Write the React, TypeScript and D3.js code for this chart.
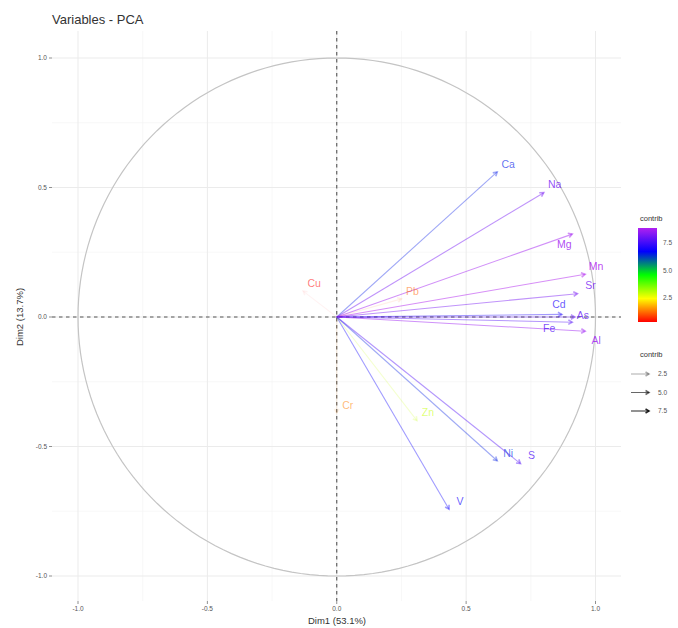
import React from "react";
import * as d3 from "d3";

const variables = ["Ca", "Na", "Mg", "Mn", "Sr", "Cd", "As", "Fe", "Al", "Ni", "S", "V", "Cu", "Pb", "Cr", "Zn"];
const dim1 = [0.62, 0.80, 0.91, 0.96, 0.93, 0.87, 0.92, 0.91, 0.96, 0.62, 0.71, 0.434, -0.13, 0.25, 0.0, 0.31];
const dim2 = [0.56, 0.48, 0.32, 0.165, 0.09, 0.01, 0.0, -0.02, -0.055, -0.555, -0.566, -0.742, 0.10, 0.07, -0.37, -0.40];
const contrib = [6.53, 8.14, 8.70, 8.88, 8.17, 7.08, 7.92, 7.75, 8.65, 6.48, 7.71, 6.91, 0.25, 1.1, 1.35, 2.9];
const axisTicks = [-1.0, -0.5, 0.0, 0.5, 1.0];
const minorTicks = [-0.75, -0.25, 0.25, 0.75];
const legendBreaks = [2.5, 5.0, 7.5];
const gradientColors = ["#FF0000", "#FFFF00", "#00FF00", "#0000FF", "#B020F0"];

// label nudges (layout only), in px relative to default placement
const labelNudge: Record<string, [number, number]> = {
  Mg: [-19, 18],
  Fe: [-34, 14],
  Al: [0, 17],
  Sr: [2, 0],
  Cd: [-14, -2],
  As: [-3, 6],
};

const W = 678, H = 628;
const panel = { left: 52, right: 621, top: 31, bottom: 601 };
const FONT = "'Liberation Sans', Arial, sans-serif";

export default function App() {
  const xs = d3.scaleLinear().domain([-1, 1]).range([78, 595.5]);
  const ys = d3.scaleLinear().domain([-1, 1]).range([576, 58]);
  const cmin = d3.min(contrib) as number;
  const cmax = d3.max(contrib) as number;
  const color = d3
    .scaleLinear<string>()
    .domain(gradientColors.map((_, i) => cmin + (i / (gradientColors.length - 1)) * (cmax - cmin)))
    .range(gradientColors)
    .interpolate(d3.interpolateRgb);
  const alpha = d3.scaleLinear().domain([cmin, cmax]).range([0.1, 1]);

  const circle = d3.range(0, 361, 2).map((a) => [Math.cos((a * Math.PI) / 180), Math.sin((a * Math.PI) / 180)]);
  const circlePath = d3.line<number[]>().x((d) => xs(d[0])).y((d) => ys(d[1]))(circle) as string;

  const arrowHead = (x1: number, y1: number, x2: number, y2: number, len = 4.5) => {
    const ang = Math.atan2(y2 - y1, x2 - x1);
    const a1 = ang + Math.PI - Math.PI / 6;
    const a2 = ang + Math.PI + Math.PI / 6;
    return `M${x2 + len * Math.cos(a1)},${y2 + len * Math.sin(a1)}L${x2},${y2}L${x2 + len * Math.cos(a2)},${y2 + len * Math.sin(a2)}`;
  };

  // colorbar
  const bar = { x: 638, y: 228, w: 19, h: 94 };
  const barScale = d3.scaleLinear().domain([cmin, cmax]).range([bar.y + bar.h, bar.y]);

  return (
    <svg width={W} height={H} style={{ position: "absolute", left: 0, top: 0, background: "#fff" }} fontFamily={FONT}>
      <defs>
        <linearGradient id="cbar" x1="0" y1="1" x2="0" y2="0">
          {d3.range(0, 1.0001, 0.05).map((t) => (
            <stop key={t} offset={t} stopColor={color(cmin + t * (cmax - cmin))} />
          ))}
        </linearGradient>
      </defs>
      <rect width={W} height={H} fill="#fff" />
      {/* title */}
      <text x={52} y={24} fontSize={13} fill="#333">Variables - PCA</text>

      {/* grid */}
      {minorTicks.map((t) => (
        <g key={"m" + t}>
          <line x1={xs(t)} x2={xs(t)} y1={panel.top} y2={panel.bottom} stroke="#F3F3F3" strokeWidth={0.6} />
          <line y1={ys(t)} y2={ys(t)} x1={panel.left} x2={panel.right} stroke="#F3F3F3" strokeWidth={0.6} />
        </g>
      ))}
      {axisTicks.map((t) => (
        <g key={"M" + t}>
          <line x1={xs(t)} x2={xs(t)} y1={panel.top} y2={panel.bottom} stroke="#EBEBEB" strokeWidth={1} />
          <line y1={ys(t)} y2={ys(t)} x1={panel.left} x2={panel.right} stroke="#EBEBEB" strokeWidth={1} />
        </g>
      ))}

      {/* axis ticks + labels */}
      {axisTicks.map((t) => (
        <g key={"t" + t} fontSize={6.5} fill="#555">
          <line x1={xs(t)} x2={xs(t)} y1={panel.bottom} y2={panel.bottom + 3} stroke="#444" strokeWidth={0.6} />
          <text x={xs(t)} y={611} textAnchor="middle">{t.toFixed(1)}</text>
          <line x1={panel.left - 3} x2={panel.left} y1={ys(t)} y2={ys(t)} stroke="#444" strokeWidth={0.6} />
          <text x={panel.left - 5} y={ys(t) + 2.3} textAnchor="end">{t.toFixed(1)}</text>
        </g>
      ))}
      <text x={337} y={624} textAnchor="middle" fontSize={9.5} fill="#333">Dim1 (53.1%)</text>
      <text transform={`translate(23,317) rotate(-90)`} textAnchor="middle" fontSize={9.5} fill="#333">Dim2 (13.7%)</text>

      {/* correlation circle */}
      <path d={circlePath} fill="none" stroke="#C4C4C4" strokeWidth={1.2} />

      {/* reference lines */}
      <line x1={panel.left} x2={panel.right} y1={ys(0)} y2={ys(0)} stroke="#555" strokeWidth={1.1} strokeDasharray="3.5,3.5" />
      <line x1={xs(0)} x2={xs(0)} y1={panel.top} y2={panel.bottom} stroke="#555" strokeWidth={1.1} strokeDasharray="3.5,3.5" />

      {/* arrows */}
      {variables.map((v, i) => {
        const x2 = xs(dim1[i]);
        const y2 = ys(dim2[i]);
        const c = color(contrib[i]);
        const a = alpha(contrib[i]) * 0.5;
        return (
          <g key={v} stroke={c} strokeOpacity={a} fill="none" strokeWidth={1.1}>
            <line x1={xs(0)} y1={ys(0)} x2={x2} y2={y2} />
            <path d={arrowHead(xs(0), ys(0), x2, y2)} strokeWidth={1.6} />
          </g>
        );
      })}
      {/* labels */}
      {variables.map((v, i) => {
        const n = labelNudge[v] || [0, 0];
        const x = xs(dim1[i]) + 11 + n[0];
        const y = ys(dim2[i]) - 8 + n[1];
        return (
          <text key={"l" + v} x={x} y={y + 3.8} textAnchor="middle" fontSize={10.5} fill={color(contrib[i])} fillOpacity={Math.max(0.55, alpha(contrib[i]) * 0.85)}>
            {v}
          </text>
        );
      })}

      {/* legend: colour */}
      <text x={640} y={221} fontSize={7.5} fill="#333">contrib</text>
      <rect x={bar.x} y={bar.y} width={bar.w} height={bar.h} fill="url(#cbar)" />
      {legendBreaks.map((b) => (
        <g key={"cb" + b}>
          <text x={663} y={barScale(b) + 2.3} fontSize={6.5} fill="#555">{b.toFixed(1)}</text>
        </g>
      ))}

      {/* legend: alpha */}
      <text x={640} y={357} fontSize={7.5} fill="#333">contrib</text>
      {legendBreaks.map((b, i) => {
        const yy = 374 + i * 18.5;
        return (
          <g key={"al" + b}>
            <g stroke="#000" strokeOpacity={alpha(b)} fill="none" strokeWidth={1}>
              <line x1={631} x2={649} y1={yy} y2={yy} />
              <path d={arrowHead(631, yy, 649, yy, 4)} strokeWidth={1.5} />
            </g>
            <text x={658} y={yy + 2.3} fontSize={6.5} fill="#555">{b.toFixed(1)}</text>
          </g>
        );
      })}
    </svg>
  );
}
